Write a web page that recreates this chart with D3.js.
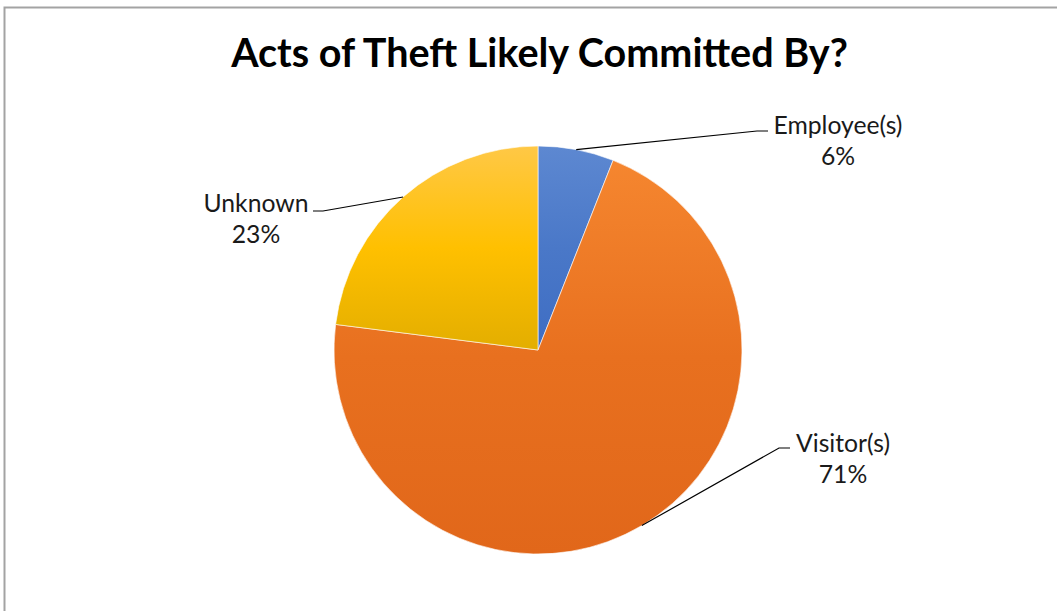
<!DOCTYPE html>
<html>
<head>
<meta charset="utf-8">
<script src="https://cdn.jsdelivr.net/npm/d3@7"></script>
<style>
  html, body { margin: 0; padding: 0; background: #ffffff; }
  svg { display: block; }
</style>
</head>
<body>
<svg id="chart" width="1057" height="611"></svg>
<script>
// Data
const titleText = "Acts of Theft Likely Committed By?";
const categories = ["Employee(s)", "Visitor(s)", "Unknown"];
const shares = [6, 71, 23];

// Slice colours: light top, base, darker bottom
const colorsTop = ["#5d88d1", "#f5862f", "#ffc846"];
const colorsMid = ["#4a78c8", "#e8701f", "#ffc000"];
const colorsBot = ["#3e6dc3", "#e1671a", "#e3ae00"];

const W = 1057, H = 611;
const cx = 538, cy = 350, R = 204;

const svg = d3.select("#chart");

// Chart area frame
svg.append("rect")
  .attr("x", 4.5).attr("y", 7.5)
  .attr("width", W + 20).attr("height", H + 20)
  .attr("fill", "#ffffff")
  .attr("stroke", "#a3a3a3")
  .attr("stroke-width", 2);

// Title, sized to span its box
const title = svg.append("text")
  .attr("x", 539.5).attr("y", 67)
  .attr("text-anchor", "middle")
  .attr("font-family", "Lato, 'Open Sans', sans-serif")
  .attr("font-weight", "bold")
  .attr("font-size", 40)
  .attr("fill", "#000")
  .text(titleText);
{
  const w = title.node().getComputedTextLength();
  title.attr("font-size", 40 * 617 / w);
}

// Gradients
const defs = svg.append("defs");
categories.forEach((c, i) => {
  const g = defs.append("linearGradient")
    .attr("id", "grad" + i)
    .attr("x1", 0).attr("y1", 0).attr("x2", 0).attr("y2", 1);
  g.append("stop").attr("offset", "0%").attr("stop-color", colorsTop[i]);
  g.append("stop").attr("offset", "50%").attr("stop-color", colorsMid[i]);
  g.append("stop").attr("offset", "100%").attr("stop-color", colorsBot[i]);
});

const pie = d3.pie().sort(null).value(d => d.v);
const arcs = pie(categories.map((c, i) => ({ c, v: shares[i], i })));
const arc = d3.arc().innerRadius(0).outerRadius(R);

const g = svg.append("g").attr("transform", `translate(${cx},${cy})`);
g.selectAll("path.slice")
  .data(arcs)
  .join("path")
  .attr("class", "slice")
  .attr("d", arc)
  .attr("fill", d => `url(#grad${d.data.i})`)
  .attr("stroke", "rgba(255,255,255,0.6)")
  .attr("stroke-width", 1);

// Label placement relative to the pie centre: text centre x, first baseline y,
// leader elbow point and end of its short horizontal run
const labelLayout = [
  { tx: 300, ty: -216, ex: 219, ey: -219, hx: 230 },  // Employee(s)
  { tx: 305, ty: 102,  ex: 241, ey: 98,   hx: 252 },  // Visitor(s)
  { tx: -282, ty: -138, ex: -215, ey: -139, hx: -225 } // Unknown
];

const labelFont = "Lato, 'Open Sans', sans-serif";
// size label text from the widest label
const probe = svg.append("text").attr("font-family", labelFont).attr("font-size", 20).text(categories[0]);
const labelSize = 20 * 129 / probe.node().getComputedTextLength();
probe.remove();

const labels = svg.append("g").attr("transform", `translate(${cx},${cy})`);
arcs.forEach((d, k) => {
  const L = labelLayout[k];
  const mid = (d.startAngle + d.endAngle) / 2;
  const px = Math.sin(mid) * R, py = -Math.cos(mid) * R;
  labels.append("path")
    .attr("d", d3.line()([[px, py], [L.ex, L.ey], [L.hx, L.ey]]))
    .attr("fill", "none")
    .attr("stroke", "#000")
    .attr("stroke-width", 1.2);
  const t = labels.append("text")
    .attr("text-anchor", "middle")
    .attr("font-family", labelFont)
    .attr("font-size", labelSize)
    .attr("fill", "#1a1a1a");
  t.append("tspan").attr("x", L.tx).attr("y", L.ty).text(d.data.c);
  t.append("tspan").attr("x", L.tx).attr("y", L.ty + 31).text(d.data.v + "%");
});
</script>
</body>
</html>
